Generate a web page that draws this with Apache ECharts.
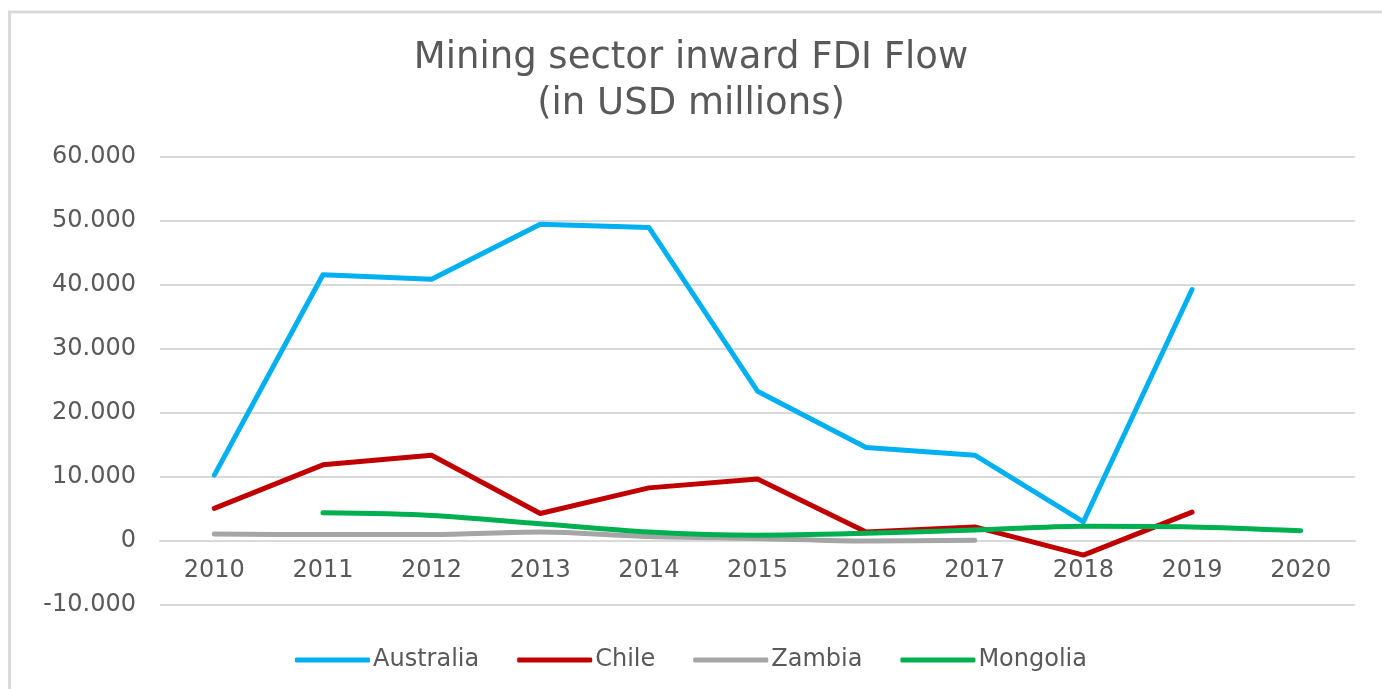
<!DOCTYPE html>
<html>
<head>
<meta charset="utf-8">
<script src="https://cdn.jsdelivr.net/npm/echarts@6/dist/echarts.min.js"></script>
<style>
  html, body { margin: 0; padding: 0; background: #ffffff; }
  #chart { width: 1382px; height: 689px; }
</style>
</head>
<body>
<div id="chart"></div>
<script>
// Mining sector inward FDI flow, USD millions
const years = ['2010','2011','2012','2013','2014','2015','2016','2017','2018','2019','2020'];
const australia = [10300, 41600, 40900, 49500, 49000, 23400, 14600, 13400, 3000, 39300, null];
const chile     = [5100, 11900, 13400, 4300, 8300, 9700, 1400, 2200, -2200, 4500, null];
const zambia    = [1100, 1000, 1000, 1400, 700, 400, 0, 100, null, null, null];
const mongolia  = [null, 4400, 4000, 2700, 1400, 900, 1200, 1700, 2300, 2200, 1600];

const seriesNames = ['Australia', 'Chile', 'Zambia', 'Mongolia'];
const seriesColors = ['#00b0f0', '#c00000', '#a5a5a5', '#00b050'];

const textColor = '#595959';
const gridColor = '#d9d9d9';
const font = 'DejaVu Sans';

// thousands separated with a dot, e.g. 60.000
function fmt(v) {
  if (v === 0) return '0';
  const s = Math.abs(v).toString().replace(/\B(?=(\d{3})+(?!\d))/g, '.');
  return (v < 0 ? '-' : '') + s;
}

function lineSeries(name, data, color, smooth) {
  return {
    name: name,
    type: 'line',
    data: data,
    showSymbol: false,
    symbol: 'none',
    smooth: smooth,
    connectNulls: false,
    lineStyle: { color: color, width: 5, cap: 'round', join: 'round' },
    itemStyle: { color: color }
  };
}

const chart = echarts.init(document.getElementById('chart'));
chart.setOption({
  animation: false,
  backgroundColor: '#ffffff',
  graphic: [{
    type: 'rect',
    shape: { x: 9.5, y: 12, width: 1400, height: 700 },
    style: { fill: 'none', stroke: gridColor, lineWidth: 3 },
    silent: true
  }],
  title: {
    text: 'Mining sector inward FDI Flow\n(in USD millions)',
    left: 'center',
    top: 30,
    textStyle: {
      fontFamily: font,
      fontSize: 37,
      fontWeight: 'normal',
      color: textColor,
      lineHeight: 46
    }
  },
  legend: {
    data: seriesNames,
    top: 643,
    left: 'center',
    icon: 'roundRect',
    itemWidth: 75,
    itemHeight: 5,
    itemGap: 38,
    textStyle: {
      fontFamily: font,
      fontSize: 24,
      color: textColor,
      padding: [0, 0, 0, -2]
    }
  },
  grid: { left: 160, right: 27, top: 157, bottom: 84, containLabel: false },
  xAxis: {
    type: 'category',
    data: years,
    boundaryGap: true,
    position: 'bottom',
    offset: -64,
    axisLine: { show: true, onZero: false, lineStyle: { color: gridColor, width: 2 } },
    axisTick: { show: false },
    axisLabel: {
      margin: 18,
      color: textColor,
      fontFamily: font,
      fontSize: 24
    }
  },
  yAxis: {
    type: 'value',
    min: -10000,
    max: 60000,
    interval: 10000,
    axisLine: { show: false },
    axisTick: { show: false },
    splitLine: { lineStyle: { color: gridColor, width: 2 } },
    axisLabel: {
      margin: 24,
      color: textColor,
      fontFamily: font,
      fontSize: 24,
      formatter: fmt
    }
  },
  series: [
    lineSeries('Australia', australia, seriesColors[0], false),
    lineSeries('Chile', chile, seriesColors[1], false),
    lineSeries('Zambia', zambia, seriesColors[2], 0.3),
    lineSeries('Mongolia', mongolia, seriesColors[3], 0.3)
  ]
});
</script>
</body>
</html>
